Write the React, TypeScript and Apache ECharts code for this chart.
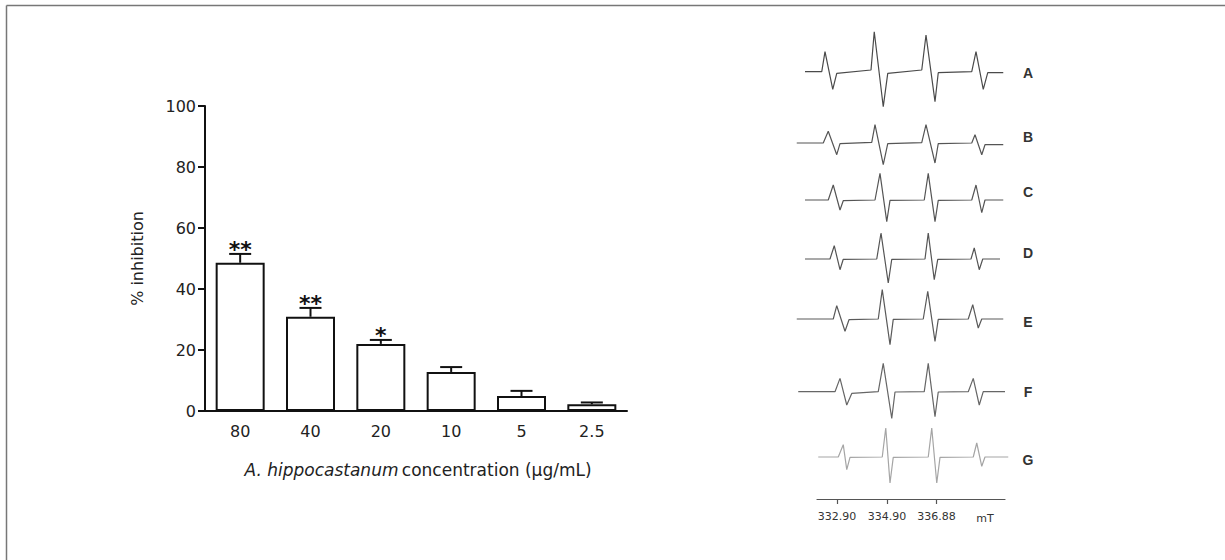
import React, { useEffect, useRef } from "react";
import * as echarts from "echarts";

// ---- Bar chart data ----
const categories = ["80", "40", "20", "10", "5", "2.5"];
const inhibition = [48.6, 30.9, 22.0, 12.8, 4.9, 2.2];
const sem = [2.9, 2.9, 1.3, 1.6, 1.7, 0.6];
const significance = ["**", "**", "*", "", "", ""];
const yTicks = [0, 20, 40, 60, 80, 100];

// ---- EPR spectra data: [field (mT), signal (a.u.)] ----
const traceA = [
  [331.62, 0], [332.29, 0], [332.42, 20], [332.73, -17.7], [332.89, -1.7], [334.26, 1.7],
  [334.39, 40], [334.75, -35], [334.93, -1.7], [336.29, 1.7], [336.46, 36.7], [336.82, -30],
  [336.95, -1], [338.29, 0], [338.46, 20], [338.75, -17.7], [338.93, -1], [339.55, -1],
];
const traceB = [
  [331.29, 0], [332.35, 0], [332.55, 11.7], [332.89, -11.7], [333.02, -0.7], [334.29, 0.7],
  [334.42, 18.3], [334.75, -21.7], [334.93, -0.7], [336.29, 0.3], [336.46, 18.3], [336.82, -20],
  [336.95, -0.7], [338.29, 0], [338.42, 8.3], [338.69, -11.7], [338.82, -1.7], [339.55, -1.7],
];
const traceC = [
  [331.62, 0], [332.55, 0], [332.75, 15], [333.02, -10], [333.15, -0.7], [334.42, 0],
  [334.62, 26.7], [334.89, -21.7], [335.02, -0.3], [336.39, 0], [336.55, 26.7], [336.82, -21.7],
  [336.95, -0.3], [338.29, 0], [338.46, 15], [338.69, -12.7], [338.82, 0], [339.55, 0],
];
const traceD = [
  [331.62, 0], [332.62, 0], [332.79, 13.3], [333.02, -10.7], [333.15, -0.3], [334.49, 0],
  [334.66, 26], [334.95, -24], [335.09, -0.3], [336.42, 0], [336.55, 26], [336.79, -20.7],
  [336.93, -0.3], [338.26, 0], [338.39, 11], [338.59, -10.7], [338.73, 0], [339.42, 0],
];
const traceE = [
  [331.29, 0], [332.75, 0], [332.89, 13.3], [333.22, -12.3], [333.38, -0.7], [334.55, 0],
  [334.71, 29.3], [335.02, -25.7], [335.15, -0.3], [336.35, 0], [336.53, 27.7], [336.82, -22.3],
  [336.95, -0.3], [338.15, 0], [338.33, 14.3], [338.55, -9], [338.69, 0], [339.55, 0],
];
const traceF = [
  [331.35, 0], [332.82, 0], [333.02, 13.3], [333.29, -13.3], [333.49, -1.7], [334.55, 0],
  [334.75, 28.3], [335.09, -26.7], [335.22, -0.3], [336.39, 0], [336.55, 28.3], [336.82, -25],
  [336.95, -0.3], [338.15, 0], [338.35, 13.3], [338.59, -13.3], [338.75, 0], [339.62, 0],
];
const traceG = [
  [332.15, 0], [332.95, 0], [333.15, 12.3], [333.29, -12.7], [333.42, -0.3], [334.71, 0],
  [334.85, 29], [335.02, -26], [335.15, -0.3], [336.55, 0], [336.69, 29], [336.89, -26],
  [337.02, -0.3], [338.35, 0], [338.49, 14], [338.69, -9.3], [338.82, 0], [339.75, 0],
];
const traces = [traceA, traceB, traceC, traceD, traceE, traceF, traceG];
const traceLabels = ["A", "B", "C", "D", "E", "F", "G"];
const fieldTicks = [332.9, 334.9, 336.88];
const fieldUnit = "mT";

export default function App() {
  const ref = useRef<HTMLDivElement>(null);

  useEffect(() => {
    if (!ref.current) return;
    const chart = echarts.init(ref.current, undefined, { renderer: "svg" });

    const font = "DejaVu Sans";
    const boldFont = "Liberation Sans";
    const traceBaselines = [71.7, 143, 200, 259, 319, 391.7, 457];
    const labelYs = [73, 137, 192, 253, 322, 392, 460];
    const traceColors = ["#4a4a4a", "#555", "#555", "#555", "#5a5a5a", "#666", "#a5a5a5"];

    const grids: any[] = [{ left: 205, right: 598, top: 106, height: 305 }];
    const xAxes: any[] = [
      {
        type: "category",
        gridIndex: 0,
        data: categories,
        axisLine: { lineStyle: { color: "#111", width: 2 } },
        axisTick: { alignWithLabel: true, length: 7, lineStyle: { color: "#111", width: 2 } },
        axisLabel: { color: "#222", fontFamily: font, fontSize: 16, margin: 12 },
      },
    ];
    const yAxes: any[] = [
      {
        type: "value",
        gridIndex: 0,
        min: 0,
        max: 100,
        interval: 20,
        axisLine: { show: true, lineStyle: { color: "#111", width: 2 } },
        axisTick: { show: true, length: 7, lineStyle: { color: "#111", width: 2 } },
        axisLabel: {
          color: "#222",
          fontFamily: font,
          fontSize: 16,
          margin: 9,
          customValues: yTicks,
        },
        splitLine: { show: false },
        name: "% inhibition",
        nameLocation: "middle",
        nameGap: 60,
        nameTextStyle: { color: "#222", fontFamily: font, fontSize: 16 },
      },
    ];

    const series: any[] = [
      {
        type: "bar",
        xAxisIndex: 0,
        yAxisIndex: 0,
        data: inhibition,
        barWidth: 49,
        itemStyle: { color: "#fff", borderColor: "#111", borderWidth: 2 },
        z: 2,
      },
      {
        type: "custom",
        xAxisIndex: 0,
        yAxisIndex: 0,
        data: inhibition.map((v, i) => [i, v, sem[i]]),
        z: 3,
        renderItem: (params: any, api: any) => {
          const idx = api.value(0);
          const v = api.value(1);
          const e = api.value(2);
          const base = api.coord([idx, v]);
          const top = api.coord([idx, v + e]);
          const star = significance[params.dataIndex];
          const children: any[] = [
            {
              type: "line",
              shape: { x1: base[0], y1: base[1], x2: top[0], y2: top[1] },
              style: { stroke: "#111", lineWidth: 2 },
            },
            {
              type: "line",
              shape: { x1: top[0] - 11, y1: top[1], x2: top[0] + 11, y2: top[1] },
              style: { stroke: "#111", lineWidth: 2 },
            },
          ];
          if (star) {
            children.push({
              type: "text",
              x: top[0],
              y: top[1] - 4,
              style: {
                text: star,
                fill: "#111",
                font: `bold 22px "${font}"`,
                textAlign: "center",
                textVerticalAlign: "middle",
              },
            });
          }
          return { type: "group", children };
        },
      },
    ];

    // spectra grids
    traces.forEach((tr, i) => {
      const gi = i + 1;
      grids.push({ left: 795, right: 1225 - 1012, top: traceBaselines[i] - 40, height: 80 });
      xAxes.push({ type: "value", gridIndex: gi, min: 331.22, max: 339.9, show: false });
      yAxes.push({ type: "value", gridIndex: gi, min: -40, max: 40, show: false });
      series.push({
        type: "line",
        xAxisIndex: gi,
        yAxisIndex: gi,
        data: tr,
        showSymbol: false,
        lineStyle: { color: traceColors[i], width: 1.2 },
        silent: true,
      });
    });

    // spectra field axis
    grids.push({ left: 817, right: 1225 - 1005, top: 489, height: 10 });
    xAxes.push({
      type: "value",
      gridIndex: 8,
      min: 332.1,
      max: 339.62,
      axisLine: { show: true, lineStyle: { color: "#555", width: 1.2 } },
      axisTick: {
        show: true,
        length: 5,
        customValues: fieldTicks,
        lineStyle: { color: "#555", width: 1.2 },
      },
      axisLabel: {
        color: "#333",
        fontFamily: font,
        fontSize: 11,
        margin: 12,
        customValues: fieldTicks,
        formatter: (v: number) => v.toFixed(2),
      },
      splitLine: { show: false },
    });
    yAxes.push({ type: "value", gridIndex: 8, min: 0, max: 1, show: false });

    const graphics: any[] = [
      {
        type: "line",
        shape: { x1: 6.5, y1: 5.5, x2: 1225, y2: 5.5 },
        style: { stroke: "#777", lineWidth: 1.5 },
      },
      {
        type: "line",
        shape: { x1: 6.5, y1: 5.5, x2: 6.5, y2: 560 },
        style: { stroke: "#777", lineWidth: 1.5 },
      },
      {
        type: "line",
        shape: { x1: 198, y1: 411, x2: 205, y2: 411 },
        style: { stroke: "#111", lineWidth: 2 },
      },
      {
        type: "text",
        x: 418,
        y: 470,
        style: {
          text: "{i|A. hippocastanum} {n|concentration (μg/mL)}",
          textAlign: "center",
          textVerticalAlign: "middle",
          rich: {
            i: { fontFamily: font, fontSize: 17, fontStyle: "italic", fill: "#222" },
            n: { fontFamily: font, fontSize: 17, fill: "#222" },
          },
        },
      },
      {
        type: "text",
        x: 985,
        y: 518,
        style: {
          text: fieldUnit,
          fill: "#333",
          font: `11px "${font}"`,
          textAlign: "center",
          textVerticalAlign: "middle",
        },
      },
      ...traceLabels.map((t, i) => ({
        type: "text",
        x: 1028,
        y: labelYs[i],
        style: {
          text: t,
          fill: "#333",
          font: `bold 14px "${boldFont}"`,
          textAlign: "center",
          textVerticalAlign: "middle",
        },
      })),
    ];

    chart.setOption({
      animation: false,
      backgroundColor: "#fff",
      grid: grids,
      xAxis: xAxes,
      yAxis: yAxes,
      series,
      graphic: graphics,
    });

    return () => chart.dispose();
  }, []);

  return (
    <div
      ref={ref}
      style={{ position: "fixed", left: 0, top: 0, width: 1225, height: 560, background: "#fff" }}
    />
  );
}
